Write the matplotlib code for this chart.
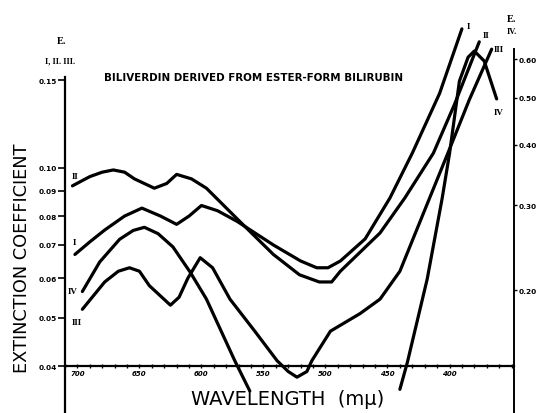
import matplotlib

matplotlib.use("Agg")
import matplotlib.pyplot as plt
import numpy as np
from matplotlib import font_manager
from matplotlib.ticker import FixedLocator, NullLocator, MultipleLocator

# wavelength (m\u03bc) and extinction coefficient
# curves I, II, III use the left scale, curve IV the right one
wl_1 = [702, 690, 678, 662, 648, 633, 620, 610, 600, 587, 571, 542, 520, 507,
        498, 488, 468, 448, 430, 408, 390]
e_1 = [0.067, 0.071, 0.075, 0.080, 0.083, 0.080, 0.077, 0.080, 0.084, 0.082,
       0.078, 0.070, 0.065, 0.063, 0.063, 0.065, 0.072, 0.087, 0.107, 0.141, 0.190]

wl_2 = [704, 690, 680, 671, 662, 654, 638, 628, 620, 608, 596, 569, 542, 521,
        505, 495, 488, 456, 436, 413, 396, 376]
e_2 = [0.092, 0.096, 0.098, 0.099, 0.098, 0.095, 0.091, 0.093, 0.097, 0.095,
       0.091, 0.078, 0.067, 0.061, 0.059, 0.059, 0.062, 0.074, 0.087, 0.107,
       0.134, 0.179]

wl_3 = [696, 678, 667, 658, 650, 642, 625, 618, 611, 601, 591, 577, 557, 539,
        530, 523, 515, 511, 496, 472, 456, 440, 416, 400, 384, 366]
e_3 = [0.052, 0.059, 0.062, 0.063, 0.062, 0.058, 0.053, 0.055, 0.060, 0.066,
       0.063, 0.0545, 0.047, 0.041, 0.039, 0.038, 0.039, 0.041, 0.047, 0.051,
       0.0545, 0.062, 0.087, 0.109, 0.137, 0.173]

# curve IV drops off the scale between ~560 and ~440
wl_4 = [696, 682, 666, 655, 646, 635, 623, 609, 596, 573, 561, 500, 440, 434,
        418, 406, 400, 392, 385, 380, 372, 362]
e_4 = [0.199, 0.229, 0.255, 0.266, 0.270, 0.262, 0.246, 0.218, 0.192, 0.143,
       0.124, np.nan, 0.125, 0.142, 0.211, 0.309, 0.383, 0.541, 0.606, 0.624,
       0.595, 0.497]

left_ticks = [0.04, 0.05, 0.06, 0.07, 0.08, 0.09, 0.10, 0.15]
left_labels = ["0.04", "0.05", "0.06", "0.07", "0.08", "0.09", "0.10", "0.15"]
right_ticks = [0.20, 0.30, 0.40, 0.50, 0.60]
right_labels = ["0.20", "0.30", "0.40", "0.50", "0.60"]
wl_ticks = [700, 650, 600, 550, 500, 450, 400]

W, H = 538, 414


def at(x, y):
    return x / W, 1 - y / H


names = {f.name for f in font_manager.fontManager.ttflist}
if "Liberation Sans Narrow" in names:
    narrow, shrink = "Liberation Sans Narrow", 1.0
else:
    narrow, shrink = "DejaVu Sans", 0.8
serif = "Liberation Serif" if "Liberation Serif" in names else "DejaVu Serif"

fig = plt.figure(figsize=(W / 100, H / 100), dpi=100)
fig.patch.set_facecolor("white")
ax = fig.add_axes([65 / W, 0, 449 / W, 404 / H])
ax.set_yscale("log")
ax.set_xlim(710, 348)
ax.set_ylim(0.0322, 0.2083)

line_kw = dict(color="black", lw=2.3, solid_capstyle="round", solid_joinstyle="round")
ax.plot(wl_1, e_1, **line_kw)
ax.plot(wl_2, e_2, **line_kw)
ax.plot(wl_3, e_3, **line_kw)

ax2 = ax.twinx()
ax2.set_yscale("log")
ax2.set_ylim(0.1117, 0.762)
ax2.plot(wl_4, e_4, **line_kw)

for a in (ax, ax2):
    a.set_facecolor("none")
    a.spines["top"].set_visible(False)
ax.spines["right"].set_visible(False)
ax2.spines["left"].set_visible(False)
ax2.spines["bottom"].set_visible(False)
for s in ("left", "bottom"):
    ax.spines[s].set_linewidth(1.6)
ax2.spines["right"].set_linewidth(1.4)
ax.spines["bottom"].set_position(("data", 0.04))
ax.spines["left"].set_bounds(0.0322, 0.152)
ax2.spines["right"].set_bounds(0.1117, 0.63)

ax.yaxis.set_major_locator(FixedLocator(left_ticks))
ax.yaxis.set_minor_locator(NullLocator())
ax.set_yticklabels(left_labels, fontsize=5.3, fontweight="bold")
ax.tick_params(axis="y", length=5, width=1.2, pad=1)

ax2.yaxis.set_major_locator(FixedLocator(right_ticks))
ax2.yaxis.set_minor_locator(NullLocator())
ax2.set_yticklabels(right_labels, fontsize=5.3, fontweight="bold")
ax2.tick_params(axis="y", length=2, width=1.0, pad=1)

ax.xaxis.set_major_locator(FixedLocator(wl_ticks))
ax.xaxis.set_minor_locator(MultipleLocator(10))
ax.set_xticklabels([str(t) for t in wl_ticks], fontsize=5, fontweight="bold",
                   fontstyle="italic")
ax.tick_params(axis="x", which="both", direction="inout", length=3, width=1.0, pad=1.5)

# titles and axis names
fig.text(*at(253, 78), "BILIVERDIN DERIVED FROM ESTER-FORM BILIRUBIN",
         family=narrow, fontsize=9.2 * shrink, fontweight="bold",
         ha="center", va="center")
fig.text(*at(22, 258), "EXTINCTION COEFFICIENT", family=narrow,
         fontsize=16 * shrink, rotation=90, ha="center", va="center")
fig.text(*at(288, 400), "WAVELENGTH  (m\u03bc)", family=narrow,
         fontsize=17.5 * shrink, ha="center", va="center")

hand = dict(family=serif, fontweight="bold", ha="center", va="center")
fig.text(*at(62, 42), "E.", fontsize=7.5, **hand)
fig.text(*at(60, 61), "I, II. III.", fontsize=6, **hand)
fig.text(*at(512, 20), "E.", fontsize=7.5, **hand)
fig.text(*at(512, 32), "IV.", fontsize=6, **hand)

# curve names
for x, y, s in [(75, 177, "II"), (74, 243, "I"), (73, 292, "IV"), (77, 323, "III"),
                (468, 27, "I"), (486, 36, "II"), (499, 50, "III"), (499, 113, "IV")]:
    fig.text(*at(x, y), s, fontsize=6.5, **hand)

fig.savefig("out.png", dpi=100, facecolor="white")
